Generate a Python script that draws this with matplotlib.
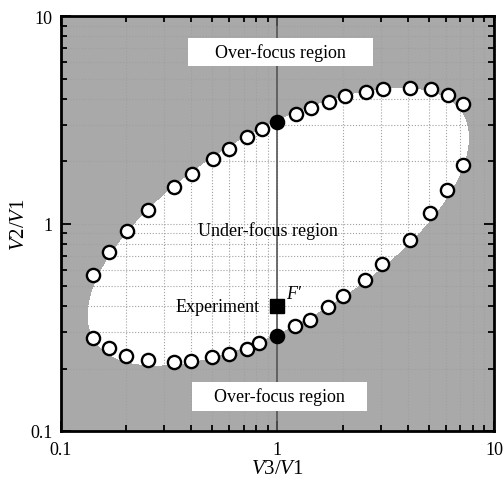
import numpy as np
import matplotlib
matplotlib.use("Agg")
import matplotlib.pyplot as plt
from matplotlib.patches import Rectangle

plt.rcParams['font.family'] = ['Liberation Serif', 'DejaVu Serif']
plt.rcParams['mathtext.fontset'] = 'custom'
plt.rcParams['mathtext.rm'] = 'Liberation Serif'
plt.rcParams['mathtext.it'] = 'Liberation Serif:italic'

# ---- data ----
x_open = [0.141, 0.167, 0.201, 0.253, 0.333, 0.405, 0.505, 0.598, 0.721, 0.848,
          1.22, 1.43, 1.73, 2.06, 2.56, 3.06, 4.11, 5.13, 6.13, 7.17]
y_upper = [0.566, 0.73, 0.92, 1.16, 1.51, 1.74, 2.06, 2.30, 2.61, 2.85,
           3.39, 3.61, 3.88, 4.12, 4.31, 4.44, 4.50, 4.44, 4.18, 3.79]
x_lower = [0.141, 0.167, 0.200, 0.252, 0.333, 0.400, 0.500, 0.600, 0.720, 0.820,
           1.20, 1.41, 1.72, 2.00, 2.53, 3.04, 4.11, 5.08, 6.09, 7.17]
y_lower = [0.281, 0.250, 0.231, 0.220, 0.216, 0.218, 0.228, 0.235, 0.249, 0.265,
           0.320, 0.344, 0.398, 0.447, 0.537, 0.637, 0.837, 1.12, 1.46, 1.92]
x_black = [1.0, 1.0]
y_black = [3.09, 0.288]
x_exp = [1.0]
y_exp = [0.40]

x_ticks = [0.1, 1, 10]
x_ticklabels = ['0.1', '1', '10']
y_ticks = [0.1, 1, 10]
y_ticklabels = ['0.1', '1', '10']

# ---- figure ----
fig = plt.figure(figsize=(5.04, 4.81), dpi=100)
ax = fig.add_axes([0.121, 0.102, 0.859, 0.862])
ax.set_xscale('log')
ax.set_yscale('log')
ax.set_xlim(0.1, 10)
ax.set_ylim(0.1, 10)
ax.set_facecolor('#a9a9a9')

# white (under-focus) region: conic fitted to the boundary points in log space
pts_x = np.log10(np.array(x_open + x_lower + x_black))
pts_y = np.log10(np.array(y_upper + y_lower + y_black))
A = np.column_stack([pts_x**2, pts_x*pts_y, pts_y**2, pts_x, pts_y])
coef, *_ = np.linalg.lstsq(A, np.ones(len(pts_x)), rcond=None)
u = np.linspace(-1, 1, 700)
U, V = np.meshgrid(u, u)
F = coef[0]*U**2 + coef[1]*U*V + coef[2]*V**2 + coef[3]*U + coef[4]*V
ax.contourf(10**U, 10**V, F, levels=[F.min() - 1, 1.0], colors=['white'], zorder=1)

# grid
ax.grid(True, which='both', color='#a0a0a0', linestyle=':', linewidth=0.8, zorder=1.5)
ax.axvline(1.0, color='#555555', linewidth=1.2, zorder=2)

# text boxes
for (x0, y0, w, h) in [(0.293, 0.881, 0.428, 0.066), (0.302, 0.048, 0.405, 0.070)]:
    ax.add_patch(Rectangle((x0, y0), w, h, transform=ax.transAxes,
                           facecolor='white', edgecolor='none', zorder=3))
ax.text(0.507, 0.914, 'Over-focus region', transform=ax.transAxes,
        ha='center', va='center', fontsize=13, zorder=4)
ax.text(0.505, 0.083, 'Over-focus region', transform=ax.transAxes,
        ha='center', va='center', fontsize=13, zorder=4)
ax.text(0.477, 0.485, 'Under-focus region', transform=ax.transAxes,
        ha='center', va='center', fontsize=13, zorder=4)

# markers
ax.plot(x_open, y_upper, 'o', ms=9.5, mfc='white', mec='black', mew=1.7,
        linestyle='none', zorder=5, clip_on=False)
ax.plot(x_lower, y_lower, 'o', ms=9.5, mfc='white', mec='black', mew=1.7,
        linestyle='none', zorder=5, clip_on=False)
ax.plot(x_black, y_black, 'o', ms=9.5, mfc='black', mec='black', mew=1.7,
        linestyle='none', zorder=5)
ax.plot(x_exp, y_exp, 's', ms=10, mfc='black', mec='black',
        linestyle='none', zorder=5)
ax.annotate('Experiment', (x_exp[0], y_exp[0]), xytext=(-13, 0),
            textcoords='offset points', ha='right', va='center', fontsize=13, zorder=6)
ax.annotate('F\u2032', (x_exp[0], y_exp[0]), xytext=(6, 9),
            textcoords='offset points', ha='left', va='center', fontsize=13,
            fontstyle='italic', zorder=6)

# axes styling
for s in ax.spines.values():
    s.set_linewidth(2)
    s.set_zorder(7)
ax.tick_params(which='both', direction='in', top=True, right=True, width=1.3, colors='black')
ax.tick_params(which='major', length=7, labelsize=13, pad=7)
ax.tick_params(which='minor', length=4.5)
ax.tick_params(axis='y', which='major', pad=6)
ax.set_xticks(x_ticks)
ax.set_xticklabels(x_ticklabels)
ax.set_yticks(y_ticks)
ax.set_yticklabels(y_ticklabels)
ax.set_xlabel(r'$V$3/$V$1', fontsize=15, labelpad=1)
ax.set_ylabel(r'$V$2/$V$1', fontsize=15, labelpad=1)

fig.savefig('out.png', dpi=100)
